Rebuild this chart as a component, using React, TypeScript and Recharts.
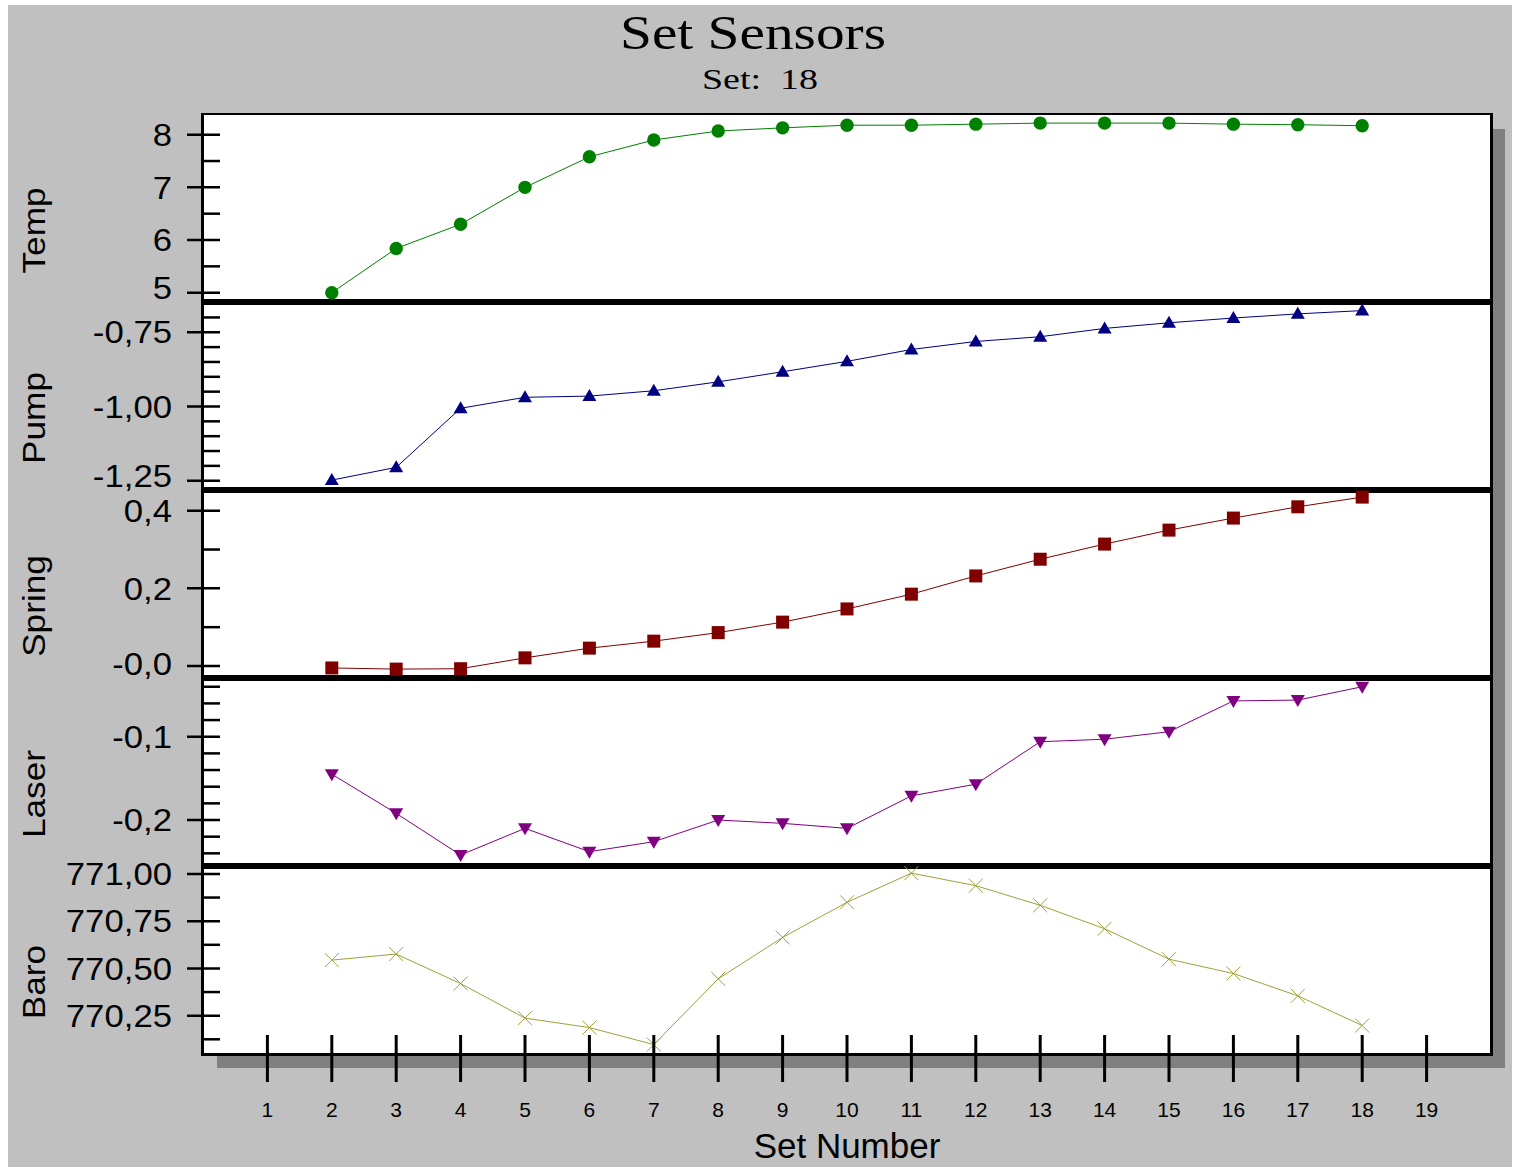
import React from "react";
import { LineChart, Line, XAxis, YAxis } from "recharts";

// Values, one entry per set number
const setNumbers = [2, 3, 4, 5, 6, 7, 8, 9, 10, 11, 12, 13, 14, 15, 16, 17, 18];
const tempValues = [5.0, 5.84, 6.3, 7.0, 7.58, 7.9, 8.07, 8.13, 8.18, 8.18, 8.2, 8.22, 8.22, 8.22, 8.2, 8.19, 8.17];
const pumpValues = [-1.248, -1.205, -1.006, -0.969, -0.965, -0.947, -0.917, -0.883, -0.848, -0.808, -0.781, -0.765, -0.737, -0.718, -0.702, -0.688, -0.677];
const springValues = [-0.005, -0.008, -0.007, 0.021, 0.046, 0.064, 0.086, 0.113, 0.147, 0.185, 0.232, 0.275, 0.314, 0.35, 0.381, 0.41, 0.435];
const laserValues = [-0.145, -0.192, -0.242, -0.21, -0.238, -0.226, -0.2, -0.204, -0.21, -0.171, -0.157, -0.106, -0.103, -0.094, -0.057, -0.056, -0.04];
const baroValues = [770.544, 770.576, 770.42, 770.237, 770.187, 770.097, 770.445, 770.664, 770.85, 771.004, 770.938, 770.834, 770.71, 770.549, 770.473, 770.355, 770.198];

const xTicks = [1, 2, 3, 4, 5, 6, 7, 8, 9, 10, 11, 12, 13, 14, 15, 16, 17, 18, 19];

const tempMajor = [5, 6, 7, 8];
const tempLabels = ["5", "6", "7", "8"];
const tempMinor = [5.5, 6.5, 7.5];

const pumpMajor = [-1.25, -1.0, -0.75];
const pumpLabels = ["-1,25", "-1,00", "-0,75"];
const pumpMinor = [-1.2, -1.15, -1.1, -1.05, -0.95, -0.9, -0.85, -0.8, -0.7];

const springMajor = [0, 0.2, 0.4];
const springLabels = ["-0,0", "0,2", "0,4"];
const springMinor = [0.1, 0.3];

const laserMajor = [-0.2, -0.1];
const laserLabels = ["-0,2", "-0,1"];
const laserMinor = [-0.24, -0.22, -0.18, -0.16, -0.14, -0.12, -0.08, -0.06, -0.04];

const baroMajor = [770.25, 770.5, 770.75, 771.0];
const baroLabels = ["770,25", "770,50", "770,75", "771,00"];
const baroMinor = [770.125, 770.375, 770.625, 770.875];

const rows = setNumbers.map((s, i) => ({
  set: s,
  temp: tempValues[i],
  pump: pumpValues[i],
  spring: springValues[i],
  laser: laserValues[i],
  baro: baroValues[i],
}));

const PAGE_W = 1514;
const PAGE_H = 1167;
const PLOT_LEFT = 203;
const PLOT_RIGHT = 1491;
const PAD = 20;
const SANS = "Arial, 'Liberation Sans', sans-serif";
const SERIF = "'Times New Roman', 'Liberation Serif', serif";

const panels = [
  { key: "temp", name: "Temp", color: "#008000", marker: "circle", top: 115, bottom: 302, domain: [4.823, 8.374], major: tempMajor, labels: tempLabels, minor: tempMinor },
  { key: "pump", name: "Pump", color: "#000080", marker: "triUp", top: 302, bottom: 490, domain: [-1.2813, -0.648], major: pumpMajor, labels: pumpLabels, minor: pumpMinor },
  { key: "spring", name: "Spring", color: "#800000", marker: "square", top: 490, bottom: 678, domain: [-0.0309, 0.4533], major: springMajor, labels: springLabels, minor: springMinor },
  { key: "laser", name: "Laser", color: "#800080", marker: "triDown", top: 678, bottom: 866, domain: [-0.2552, -0.0295], major: laserMajor, labels: laserLabels, minor: laserMinor },
  { key: "baro", name: "Baro", color: "#a0a03c", marker: "cross", top: 866, bottom: 1054, domain: [770.0472, 771.042], major: baroMajor, labels: baroLabels, minor: baroMinor },
];

const renderMarker = (kind: string, color: string, props: any) => {
  const { cx, cy, index } = props;
  if (cx == null || cy == null) return <g key={index} />;
  switch (kind) {
    case "circle":
      return <circle key={index} cx={cx} cy={cy} r={6.7} fill={color} />;
    case "triUp":
      return <polygon key={index} points={`${cx},${cy - 7} ${cx - 7},${cy + 5} ${cx + 7},${cy + 5}`} fill={color} />;
    case "square":
      return <rect key={index} x={cx - 6.5} y={cy - 6.5} width={13} height={13} fill={color} />;
    case "triDown":
      return <polygon key={index} points={`${cx - 7},${cy - 5} ${cx + 7},${cy - 5} ${cx},${cy + 7}`} fill={color} />;
    default:
      return (
        <g key={index} stroke={color} strokeWidth={1}>
          <line x1={cx - 7} y1={cy - 7} x2={cx + 7} y2={cy + 7} />
          <line x1={cx - 7} y1={cy + 7} x2={cx + 7} y2={cy - 7} />
        </g>
      );
  }
};

const YTick = (props: any) => {
  const { x, y, payload, panel, bandBottom } = props;
  const i = panel.major.findIndex((v: number) => Math.abs(v - payload.value) < 1e-9);
  if (i < 0) {
    return <line x1={x} x2={x + 17} y1={y} y2={y} stroke="#000" strokeWidth={2.5} />;
  }
  // labels near the panel's lower edge are pushed up so they stay inside the band
  const ty = Math.min(y, bandBottom - 14);
  return (
    <g>
      <line x1={x - 16} x2={x + 17} y1={y} y2={y} stroke="#000" strokeWidth={2.5} />
      <text
        transform={`translate(${x - 31},${ty}) scale(1.12,1)`}
        textAnchor="end"
        dy="0.36em"
        fontSize={31}
        fontFamily={SANS}
        fill="#000"
      >
        {panel.labels[i]}
      </text>
    </g>
  );
};

const XTick = (props: any) => {
  const { x, y, payload } = props;
  return (
    <g>
      <line x1={x} x2={x} y1={y - 19} y2={y + 28} stroke="#000" strokeWidth={3} />
      <text x={x} y={y + 63} textAnchor="middle" fontSize={21} fontFamily={SANS} fill="#000">
        {payload.value}
      </text>
    </g>
  );
};

const Panel = ({ panel, showX }: { panel: any; showX: boolean }) => {
  const h = panel.bottom - panel.top;
  const chartTop = panel.top - PAD;
  const xAxisH = showX ? PAGE_H - panel.bottom : 0;
  const height = PAD + h + (showX ? xAxisH : PAD);
  const ticks = [...panel.major, ...panel.minor].sort((a, b) => a - b);
  const nameY = PAD + h / 2 + 22;
  return (
    <div style={{ position: "absolute", left: 0, top: chartTop }}>
      <LineChart
        width={PAGE_W}
        height={height}
        data={rows}
        margin={{ top: PAD, right: PAGE_W - PLOT_RIGHT, bottom: showX ? 0 : PAD, left: 0 }}
      >
        <XAxis
          type="number"
          dataKey="set"
          domain={[0, 20]}
          ticks={xTicks}
          hide={!showX}
          height={xAxisH}
          interval={0}
          tickSize={0}
          tickMargin={0}
          axisLine={false}
          tickLine={false}
          tick={<XTick />}
          label={{
            content: () => (
              <text x={(PLOT_LEFT + PLOT_RIGHT) / 2} y={height - 9} textAnchor="middle" fontSize={35} fontFamily={SANS} fill="#000">
                Set Number
              </text>
            ),
          }}
        />
        <YAxis
          type="number"
          domain={panel.domain}
          ticks={ticks}
          width={PLOT_LEFT}
          interval={0}
          tickSize={0}
          tickMargin={0}
          axisLine={false}
          tickLine={false}
          tick={(p: any) => <YTick {...p} panel={panel} bandBottom={PAD + h} />}
          label={{
            content: () => (
              <text
                transform={`translate(45,${nameY}) rotate(-90) scale(1.1,1)`}
                textAnchor="middle"
                fontSize={32}
                fontFamily={SANS}
                fill="#000"
              >
                {panel.name}
              </text>
            ),
          }}
        />
        <Line
          type="linear"
          dataKey={panel.key}
          stroke={panel.color}
          strokeWidth={1}
          dot={(p: any) => renderMarker(panel.marker, panel.color, p)}
          activeDot={false}
          isAnimationActive={false}
        />
      </LineChart>
    </div>
  );
};

const App: React.FC = () => {
  const separators = [302, 490, 678, 866];
  return (
    <div style={{ position: "absolute", left: 0, top: 0, width: PAGE_W, height: PAGE_H, background: "#fff", overflow: "hidden" }}>
      <div style={{ position: "absolute", left: 8, top: 5, width: 1504, height: 1162, background: "#c0c0c0" }} />
      <div style={{ position: "absolute", left: 217, top: 129, width: 1288, height: 939, background: "#808080" }} />
      <div
        style={{
          position: "absolute",
          left: 201,
          top: 113,
          width: 1292,
          height: 943,
          boxSizing: "border-box",
          background: "#fff",
          borderStyle: "solid",
          borderColor: "#000",
          borderWidth: "2px 3px 3px 3px",
        }}
      />
      {separators.map((c) => (
        <div key={c} style={{ position: "absolute", left: 202, top: c - 3, width: 1290, height: 6, background: "#000" }} />
      ))}
      {panels.map((p, i) => (
        <Panel key={p.key} panel={p} showX={i === panels.length - 1} />
      ))}
      <svg style={{ position: "absolute", left: 0, top: 0 }} width={PAGE_W} height={100}>
        <text x={620} y={49} fontSize={49} fontFamily={SERIF} textLength={266} lengthAdjust="spacingAndGlyphs" fill="#000">
          Set Sensors
        </text>
        <text x={702} y={89} fontSize={30} fontFamily={SERIF} textLength={116} lengthAdjust="spacingAndGlyphs" fill="#000" style={{ whiteSpace: "pre" }}>
          {"Set:  18"}
        </text>
      </svg>
    </div>
  );
};

export default App;
